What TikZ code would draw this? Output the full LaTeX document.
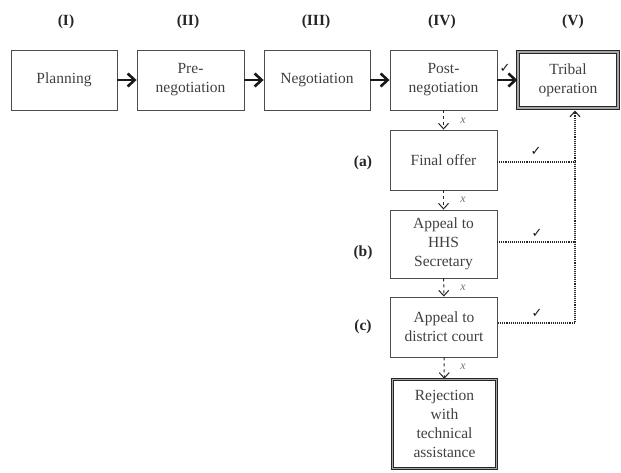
\documentclass[tikz,border=0pt]{standalone}
\usepackage{fontspec}
\setmainfont{Liberation Serif}
\newfontfamily\symfont{DejaVu Sans}
\usetikzlibrary{arrows.meta,calc}
\begin{document}
\begin{tikzpicture}[x=1pt,y=-1pt,
  every node/.style={font=\fontsize{15.5}{19}\selectfont, text=black!75},
  box/.style={draw=black!70, line width=0.9pt, align=center, minimum height=60pt, inner sep=2pt},
  finalbox/.style={draw=black!85, line width=1.3pt, double=black!35, double distance=1.1pt, align=center, inner sep=2pt},
  phase/.style={font=\bfseries\fontsize{15.5}{19}\selectfont, text=black!85},
  mainarrow/.style={line width=2.6pt, black!90, -{Straight Barb[length=7pt,width=13pt]}},
  failarrow/.style={dashed, line width=1pt, black!85, -{Straight Barb[length=5.5pt,width=10pt]}},
  okline/.style={densely dotted, line width=1.1pt, black!85},
  xlab/.style={font=\itshape\fontsize{12}{14}\selectfont, text=black!55},
  cklab/.style={font=\symfont\fontsize{13}{15}\selectfont, text=black!90}
]
\useasboundingbox (0,0) rectangle (621,472);

% phase labels
\node[phase] (l1) at (66,22) {(I)};
\node[phase] (l2) at (188,22) {(II)};
\node[phase] (l3) at (316,22) {(III)};
\node[phase] (l4) at (442,22) {(IV)};
\node[phase] (l5) at (573,22) {(V)};

% top row
\node[box, minimum width=106pt] (plan) at (64,80) {Planning};
\node[box, minimum width=107pt] (pre) at (190.5,80) {Pre-\\negotiation};
\node[box, minimum width=106pt] (neg) at (317,80) {Negotiation};
\node[box, minimum width=107pt] (post) at (443.5,80) {Post-\\negotiation};
\node[finalbox, minimum width=100pt, minimum height=56pt] (tribal) at (568,80) {Tribal\\operation};

% column
\node[box, minimum width=107pt] (final) at (443.5,160) {Final offer};
\node[box, minimum width=107pt, minimum height=68pt] (hhs) at (443.5,244) {Appeal to\\HHS\\Secretary};
\node[box, minimum width=107pt] (court) at (444,327) {Appeal to\\district court};
\node[finalbox, minimum width=104pt, minimum height=89pt] (rej) at (444.5,424) {Rejection\\with\\technical\\assistance};

% side labels
\node[phase] (la) at (363,163) {(a)};
\node[phase] (lb) at (363,253) {(b)};
\node[phase] (lc) at (363,327) {(c)};

% main arrows
\draw[mainarrow] (plan) -- (pre);
\draw[mainarrow] (pre) -- (neg);
\draw[mainarrow] (neg) -- (post);
\draw[mainarrow] (post) -- (tribal);
\node[cklab] (c0) at (505,68) {✓};

% failure arrows
\draw[failarrow] (post) -- (final);
\draw[failarrow] (final) -- (hhs);
\draw[failarrow] (hhs) -- (court);
\draw[failarrow] (court) -- (rej);
\node[xlab] (x1) at (463,121) {x};
\node[xlab] (x2) at (463,200) {x};
\node[xlab] (x3) at (463,288) {x};
\node[xlab] (x4) at (463,367) {x};

% success lines
\coordinate (tb) at (575,110.5);
\coordinate (fe) at (497,162);
\coordinate (he) at (497,242);
\coordinate (ce) at (498,323);
\draw[okline] (fe) -- (fe -| tb);
\draw[okline] (he) -- (he -| tb);
\draw[okline, -{Straight Barb[length=5.5pt,width=10pt]}] (ce) -| (tb);
\node[cklab] (c1) at (536,151) {✓};
\node[cklab] (c2) at (537,233) {✓};
\node[cklab] (c3) at (537,313) {✓};
\end{tikzpicture}
\end{document}
